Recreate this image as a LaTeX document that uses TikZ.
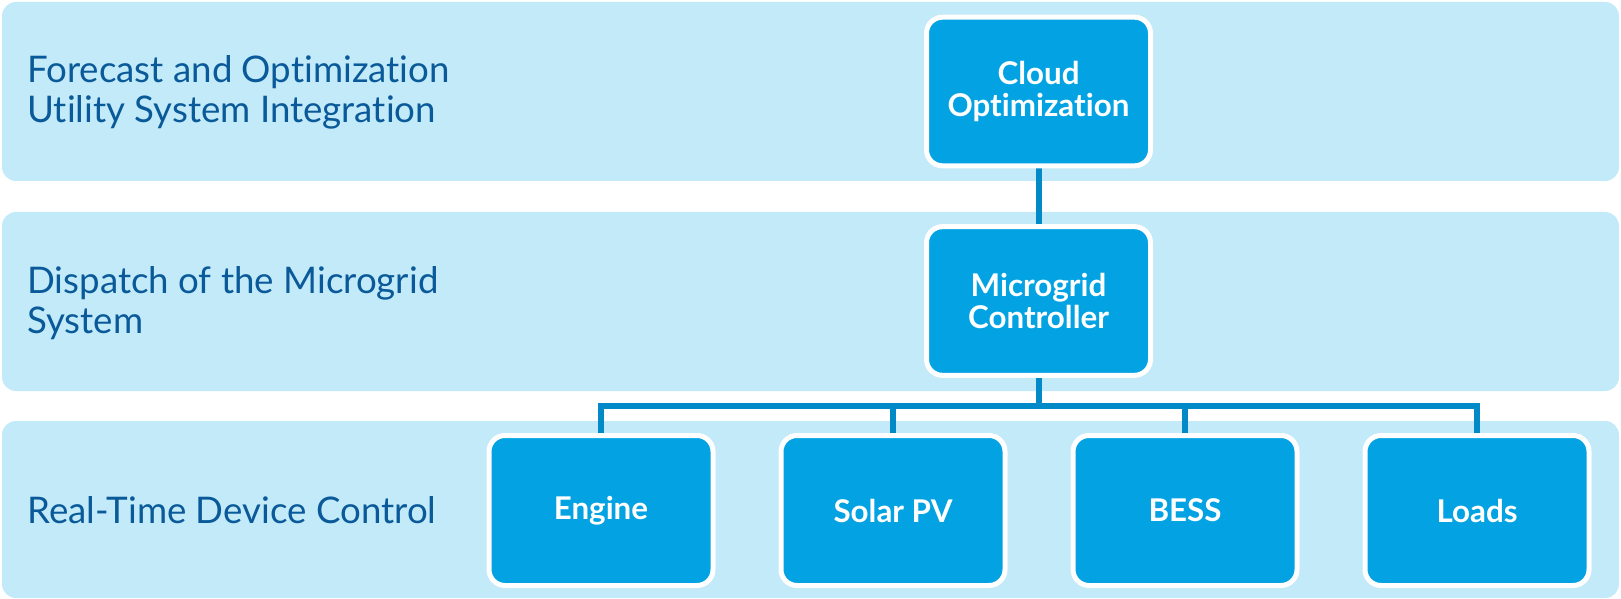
\documentclass[tikz,border=0pt]{standalone}
\usepackage{fontspec}
\setmainfont{Lato}[Ligatures=NoCommon]
\definecolor{bandc}{HTML}{C2EAF9}
\definecolor{boxc}{HTML}{03A3E3}
\definecolor{connc}{HTML}{0289C8}
\definecolor{labc}{HTML}{0A5A9A}
\pgfdeclarelayer{bandlayer}
\pgfdeclarelayer{connlayer}
\pgfsetlayers{bandlayer,connlayer,main}
\tikzset{
  band/.style={fill=bandc, rounded corners=10.5pt, inner sep=0pt, minimum width=1212.75pt},
  unit/.style={fill=boxc, draw=white, line width=3.75pt, rounded corners=12pt,
    minimum width=168pt, minimum height=111.5pt, inner sep=0pt, align=center,
    text=white, font=\fontsize{23.5pt}{24pt}\selectfont\bfseries},
  lab/.style={anchor=base west, inner sep=0pt, align=left, text=labc,
    font=\fontsize{27.5pt}{30pt}\selectfont},
  conn/.style={draw=connc, line width=4.5pt}
}
\begin{document}
\begin{tikzpicture}[x=0.75pt,y=-0.75pt]
\useasboundingbox (0,0) rectangle (1621,599);
\begin{pgfonlayer}{bandlayer}
\node[band, minimum height=134.25pt] (b1) at (810.5,91.5) {};
\node[band, minimum height=134.25pt] (b2) at (810.5,301.5) {};
\node[band, minimum height=132.75pt] (b3) at (810.5,509.5) {};
\end{pgfonlayer}

\node[lab] (l1) at (27,123) {Forecast and Optimization\\Utility System Integration};
\node[lab] (l2) at (27,333) {Dispatch of the Microgrid\\System};
\node[lab] (l3) at (27,523) {Real-Time Device Control};

\coordinate (bus) at (0,406);
\node[unit] (cloud) at (1038.5,91.5) {Cloud\\Optimization};
\node[unit] (micro) at (1038.5,301) {Microgrid\\Controller};
\node[unit, minimum height=112.5pt] (engine) at (601,510.5) {Engine};
\node[unit, minimum height=112.5pt] (solar) at (893,510.5) {Solar PV};
\node[unit, minimum height=112.5pt] (bess) at (1185,510.5) {BESS};
\node[unit, minimum height=112.5pt] (loads) at (1477,510.5) {Loads};

\begin{pgfonlayer}{connlayer}
\draw[conn] (cloud.south) -- (micro.north);
\draw[conn] (micro.south) -- (micro.south |- bus) -| (engine.north);
\draw[conn] (micro.south |- bus) -| (solar.north);
\draw[conn] (micro.south |- bus) -| (bess.north);
\draw[conn] (micro.south |- bus) -| (loads.north);
\end{pgfonlayer}
\end{tikzpicture}
\end{document}
